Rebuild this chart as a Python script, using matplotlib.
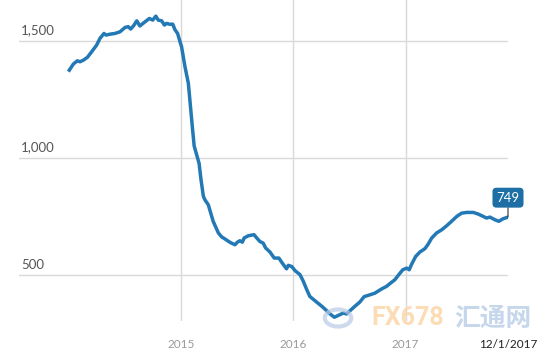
import pandas as pd
import matplotlib.pyplot as plt
from matplotlib.patches import Circle

# weekly US oil rig count
dates = ['2014-01-01', '2014-01-14', '2014-01-27', '2014-02-05', '2014-02-16', '2014-03-01',
         '2014-03-15', '2014-03-31', '2014-04-11', '2014-04-24', '2014-05-01', '2014-05-14',
         '2014-05-30', '2014-06-15', '2014-07-02', '2014-07-12', '2014-07-20', '2014-07-29',
         '2014-08-09', '2014-08-19', '2014-09-05', '2014-09-19', '2014-09-30', '2014-10-10',
         '2014-10-18', '2014-10-29', '2014-11-07', '2014-11-14', '2014-11-25', '2014-12-04',
         '2014-12-11', '2014-12-20', '2014-12-28', '2015-01-02', '2015-01-13', '2015-01-24',
         '2015-02-01', '2015-02-07', '2015-02-12', '2015-02-28', '2015-03-06', '2015-03-14',
         '2015-03-19', '2015-03-30', '2015-04-15', '2015-05-02', '2015-05-13', '2015-05-23',
         '2015-06-09', '2015-06-25', '2015-07-03', '2015-07-11', '2015-07-19', '2015-07-25',
         '2015-08-07', '2015-08-26', '2015-09-04', '2015-09-14', '2015-09-25', '2015-10-03',
         '2015-10-17', '2015-10-31', '2015-11-15', '2015-11-26', '2015-12-10', '2015-12-16',
         '2015-12-27', '2016-01-07', '2016-01-23', '2016-02-03', '2016-02-14', '2016-02-24',
         '2016-03-17', '2016-04-03', '2016-04-19', '2016-04-30', '2016-05-14', '2016-05-27',
         '2016-06-12', '2016-06-23', '2016-07-04', '2016-07-20', '2016-08-05', '2016-08-19',
         '2016-09-07', '2016-09-23', '2016-10-15', '2016-10-31', '2016-11-17', '2016-11-27',
         '2016-12-10', '2016-12-23', '2017-01-05', '2017-01-13', '2017-01-21', '2017-02-03',
         '2017-02-17', '2017-03-05', '2017-03-16', '2017-03-27', '2017-04-12', '2017-04-29',
         '2017-05-15', '2017-05-31', '2017-06-17', '2017-07-03', '2017-07-19', '2017-08-10',
         '2017-08-26', '2017-09-11', '2017-09-22', '2017-10-03', '2017-10-19', '2017-11-01',
         '2017-11-15', '2017-12-01']
rigs = [1377, 1403, 1417, 1413, 1420, 1432,
        1456, 1484, 1513, 1534, 1527, 1531,
        1534, 1541, 1560, 1563, 1553, 1566,
        1588, 1566, 1584, 1598, 1591, 1608,
        1591, 1588, 1570, 1577, 1573, 1574,
        1551, 1534, 1498, 1477, 1392, 1321,
        1207, 1121, 1053, 979, 912, 838,
        823, 802, 731, 681, 664, 656,
        641, 631, 642, 648, 642, 660,
        669, 674, 660, 645, 638, 617,
        600, 574, 574, 553, 528, 543,
        538, 520, 503, 474, 439, 410,
        386, 368, 349, 335, 321, 329,
        339, 335, 349, 368, 386, 409,
        417, 424, 442, 453, 471, 481,
        503, 524, 531, 524, 548, 581,
        600, 614, 634, 659, 681, 695,
        712, 731, 752, 766, 769, 769,
        762, 752, 745, 749, 738, 731,
        742, 749]

year_ticks = ['2015-01-01', '2016-01-01', '2017-01-01']
year_labels = ['2015', '2016', '2017']
y_ticks = [500, 1000, 1500]
y_labels = ['500', '1,000', '1,500']

t = pd.to_datetime(dates)
line_color = '#2379b5'

fig = plt.figure(figsize=(5.5, 3.56), dpi=100)
ax = fig.add_axes([19 / 550, 35 / 356, 489 / 550, 321 / 356])

ax.plot(t, rigs, color=line_color, lw=2.5, solid_joinstyle='round', zorder=3)

ax.set_xlim(pd.Timestamp('2013-07-21'), t[-1])
ax.set_ylim(305, 1677)

for s in ax.spines.values():
    s.set_visible(False)

# grid
for v in y_ticks:
    ax.axhline(v, color='#d9d9d9', lw=1, zorder=1)
for d in year_ticks:
    ax.axvline(pd.Timestamp(d), color='#d9d9d9', lw=1, zorder=1)

ax.set_yticks([])
for v, lab in zip(y_ticks, y_labels):
    ax.annotate(lab, xy=(0, v), xycoords=('axes fraction', 'data'),
                xytext=(1.5, 3.5), textcoords='offset points',
                ha='left', va='bottom', fontsize=9.5, color='#555555', family='Lato')

xt = list(pd.to_datetime(year_ticks)) + [t[-1]]
ax.set_xticks(xt)
ax.set_xticklabels(year_labels + ['12/1/2017'], fontsize=8.5, family='Lato')
ax.tick_params(axis='x', length=0, pad=13)
for i, lab in enumerate(ax.get_xticklabels()):
    lab.set_color('#999999' if i < 3 else '#222222')

# last value callout
ax.annotate(str(rigs[-1]), xy=(t[-1], rigs[-1]), xycoords='data',
            xytext=(0, 14), textcoords='offset points',
            ha='center', va='center', fontsize=9.5, color='white', family='Lato',
            bbox=dict(boxstyle='round,pad=0.3,rounding_size=0.3', fc='#1d6fa5', ec='none'),
            arrowprops=dict(arrowstyle='-', color='#333333', lw=0.8, shrinkA=0, shrinkB=0),
            annotation_clip=False, zorder=5)

# watermark
fig.patches.append(Circle((338 / 550, 1 - 318 / 356), 0.024, transform=fig.transFigure,
                          fill=False, ec='#b9c9e4', lw=3, alpha=0.7))
fig.text(371 / 550, 1 - 318 / 356, 'FX678', fontsize=18, fontweight='bold',
         color='#fcd6a8', ha='left', va='center', family='Roboto', alpha=0.85)
fig.text(454 / 550, 1 - 318 / 356, '汇通网', fontsize=18.5, fontweight='bold',
         color='#bccfe8', ha='left', va='center', family=['Noto Sans CJK SC', 'DejaVu Sans'],
         alpha=0.85)

fig.savefig('out.png', dpi=100)
